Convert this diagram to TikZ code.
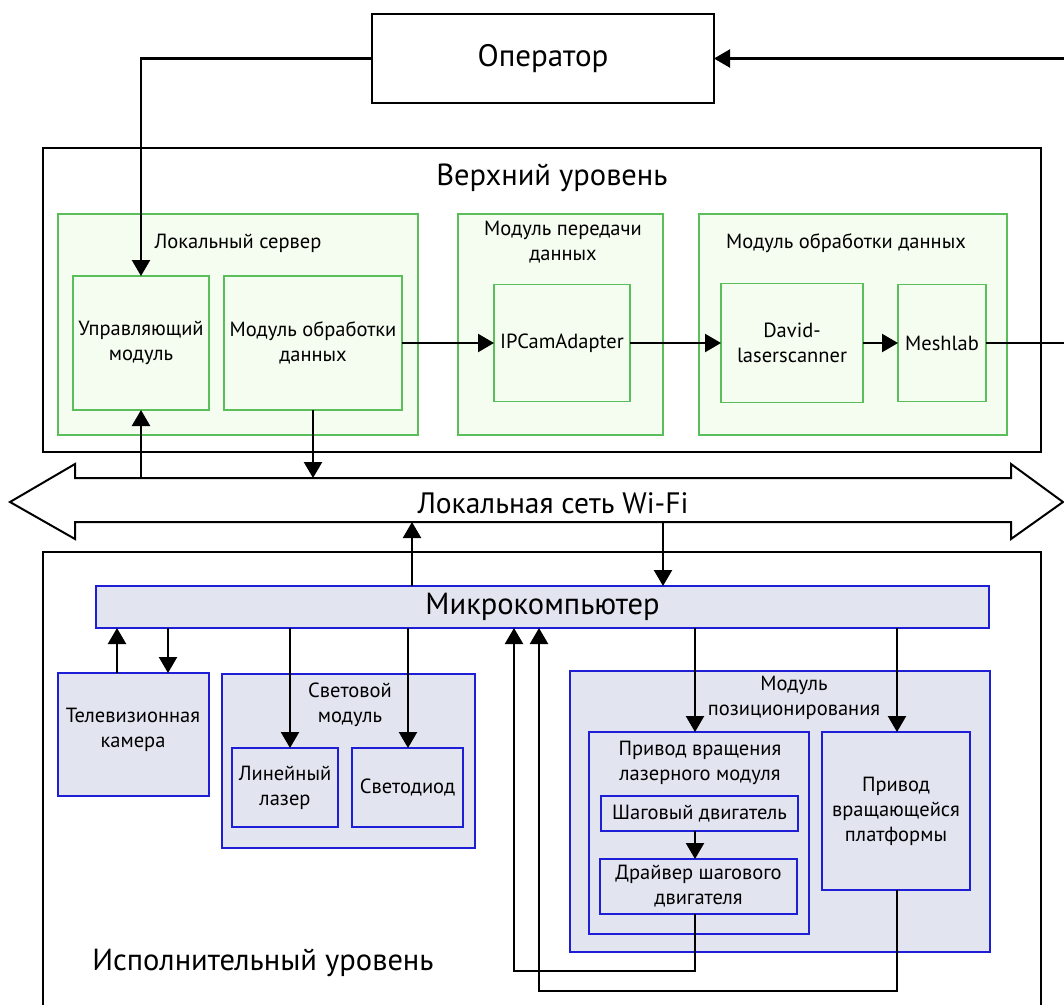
\documentclass[tikz,border=0pt]{standalone}
\usepackage{fontspec}
\setmainfont{PT Sans}
\usetikzlibrary{arrows.meta,calc}
\definecolor{gline}{RGB}{90,190,90}
\definecolor{gfill}{RGB}{245,252,240}
\definecolor{bline}{RGB}{30,30,215}
\definecolor{bfill}{RGB}{226,229,240}
\tikzset{
  sm/.style={font=\fontsize{20.5}{25}\selectfont},
  blk/.style={draw=black, line width=2.2pt, fill=white, inner sep=0pt, outer sep=0pt},
  gbox/.style={draw=gline, line width=1.3pt, fill=gfill, inner sep=0pt, outer sep=0pt, align=center, sm},
  bbox/.style={draw=bline, line width=1.6pt, fill=bfill, inner sep=0pt, outer sep=0pt, align=center, sm},
  lbl/.style={inner sep=0pt, align=center, sm},
  big/.style={inner sep=0pt, font=\fontsize{30.5}{36}\selectfont},
  arr/.style={line width=2.3pt, -{Triangle[width=18pt,length=16pt]}},
  ln/.style={line width=2.2pt},
}
\begin{document}
\begin{tikzpicture}[x=1pt,y=-1pt]
\useasboundingbox[fill=white] (0,0) rectangle (1064,1005);

% Operator
\node[blk, minimum width=342pt, minimum height=89pt, font=\fontsize{31}{36}\selectfont] (op) at (543,58.5) {Оператор};

% Upper level
\node[blk, minimum width=998pt, minimum height=304pt] (top) at (542,300) {};
\node[big] (toplbl) at (552,178) {Верхний уровень};

\node[gbox, minimum width=360pt, minimum height=221pt] (srv) at (238,324.5) {};
\node[lbl] (srvlbl) at (238,243) {Локальный сервер};
\node[gbox, minimum width=136pt, minimum height=134pt] (ctrl) at (141,343) {Управляющий\\модуль};
\node[gbox, minimum width=178pt, minimum height=134pt] (proc) at (313,343) {Модуль обработки\\данных};

\node[gbox, minimum width=205pt, minimum height=221pt] (trans) at (560.5,324.5) {};
\node[lbl] (translbl) at (563,242) {Модуль передачи\\данных};
\node[gbox, minimum width=136pt, minimum height=117pt] (ipcam) at (562,343) {IPCamAdapter};

\node[gbox, minimum width=308pt, minimum height=221pt] (dproc) at (853,324.5) {};
\node[lbl] (dproclbl) at (846,243) {Модуль обработки данных};
\node[gbox, minimum width=142pt, minimum height=119pt] (david) at (792,343) {David-\\laserscanner};
\node[gbox, minimum width=88pt, minimum height=117pt] (mesh) at (942,343) {Meshlab};

% Network arrow
\draw[line width=2pt, fill=white, line join=miter] (10,502) -- (75,464) -- (75,478) -- (1011,478) -- (1011,464) -- (1063,502) -- (1011,539) -- (1011,522) -- (75,522) -- (75,539) -- cycle;
\node[inner sep=0pt, font=\fontsize{29.5}{34}\selectfont] (net) at (553,503) {Локальная сеть Wi-Fi};
\coordinate (netTop) at (553,478);
\coordinate (netBot) at (553,522);

% Lower level
\draw[ln] (43,1005) -- (43,552) -- (1041,552) -- (1041,1005);
\node[big] (lowlbl) at (263,963) {Исполнительный уровень};

\node[bbox, minimum width=893pt, minimum height=42pt, font=\fontsize{30.5}{36}\selectfont] (micro) at (542.5,607) {Микрокомпьютер};

\node[bbox, minimum width=151pt, minimum height=123pt] (cam) at (133.5,734.5) {};
\node[lbl] (camlbl) at (133,730) {Телевизионная\\камера};

\node[bbox, minimum width=253pt, minimum height=174pt] (light) at (348.5,761) {};
\node[lbl] (lightlbl) at (350,704.5) {Световой\\модуль};
\node[bbox, minimum width=106pt, minimum height=79pt] (laser) at (285,787.5) {Линейный\\лазер};
\node[bbox, minimum width=111pt, minimum height=79pt] (led) at (407.5,787.5) {Светодиод};

\node[bbox, minimum width=420pt, minimum height=281pt] (pos) at (780,811.5) {};
\node[lbl] (poslbl) at (794,697.5) {Модуль\\позиционирования};
\node[bbox, minimum width=220pt, minimum height=202pt] (rotl) at (699,833) {};
\node[lbl] (rotllbl) at (700,763) {Привод вращения\\лазерного модуля};
\node[bbox, minimum width=197pt, minimum height=35pt] (stepm) at (699.5,813.5) {Шаговый двигатель};
\node[bbox, minimum width=197pt, minimum height=55pt] (drv) at (698.5,886.5) {Драйвер шагового\\двигателя};
\node[bbox, minimum width=148pt, minimum height=158pt] (rotp) at (896,811) {Привод\\вращающейся\\платформы};

% Connectors upper
\draw[arr] (op.west) -| (ctrl.north);
\draw[arr] (mesh.east) -- ++(121,0) |- (op.east);
\draw[arr] (proc.east) -- (ipcam.west);
\draw[arr] (ipcam.east) -- (david.west);
\draw[arr] (david.east) -- (mesh.west);
\draw[arr] (netTop -| ctrl.south) -- (ctrl.south);
\draw[arr] (proc.south) -- (netTop -| proc.south);

% network <-> micro
\draw[arr] (micro.north -| 412,0) -- (netBot -| 412,0);
\draw[arr] (netBot -| 663,0) -- (micro.north -| 663,0);

% micro <-> lower
\draw[arr] (cam.north -| 117,0) -- (micro.south -| 117,0);
\draw[arr] (micro.south -| 168,0) -- (cam.north -| 168,0);
\draw[arr] (micro.south -| 290,0) -- (laser.north -| 290,0);
\draw[arr] (micro.south -| 408,0) -- (led.north -| 408,0);
\draw[arr] (micro.south -| 695,0) -- (rotl.north -| 695,0);
\draw[arr] (micro.south -| 897,0) -- (rotp.north -| 897,0);
\draw[arr] (stepm.south -| 695,0) -- (drv.north -| 695,0);
\draw[arr] (drv.south -| 695,0) -- (695,971) -- (514,971) -- (micro.south -| 514,0);
\draw[arr] (rotp.south -| 897,0) -- (897,991) -- (539,991) -- (micro.south -| 539,0);
\end{tikzpicture}
\end{document}
